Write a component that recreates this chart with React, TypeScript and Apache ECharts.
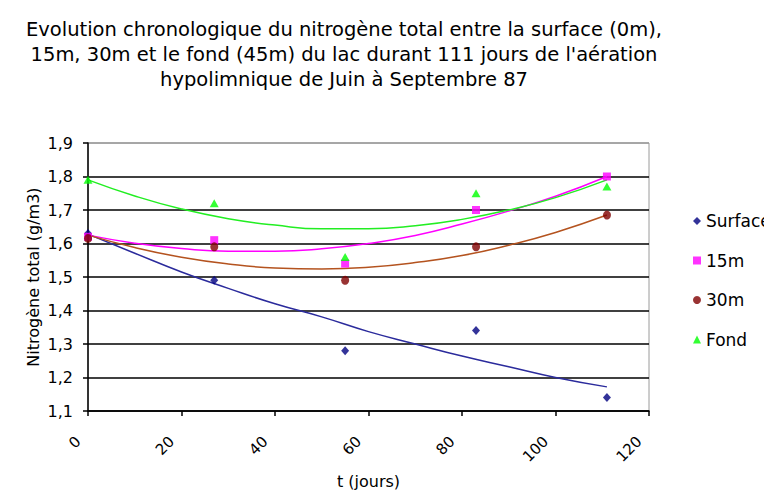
import React, { useEffect, useRef } from "react";
import * as echarts from "echarts";

const titleText =
  "Evolution chronologique du nitrogène total entre la surface (0m),\n15m, 30m et le fond (45m) du lac durant 111 jours de l'aération\nhypolimnique de Juin à Septembre 87";

const seriesNames = ["Surface", "15m", "30m", "Fond"];
const days = [0, 27, 55, 83, 111];
const surface = [1.63, 1.49, 1.28, 1.34, 1.14];
const m15 = [1.62, 1.61, 1.54, 1.70, 1.80];
const m30 = [1.615, 1.59, 1.49, 1.59, 1.685];
const fond = [1.79, 1.72, 1.56, 1.75, 1.77];

// trend lines
const trendDays = [0, 10, 20, 30, 40, 50, 60, 70, 80, 90, 100, 111];
const surfaceTrend = [1.628, 1.571, 1.515, 1.466, 1.42, 1.381, 1.337, 1.3, 1.264, 1.232, 1.2, 1.172];
const m15Trend = [1.625, 1.601, 1.585, 1.577, 1.577, 1.584, 1.6, 1.624, 1.658, 1.697, 1.741, 1.8];
const m30Trend = [1.625, 1.588, 1.559, 1.539, 1.527, 1.524, 1.529, 1.543, 1.564, 1.595, 1.633, 1.685];
const fondTrend = [1.79, 1.742, 1.703, 1.674, 1.655, 1.644, 1.644, 1.653, 1.672, 1.7, 1.737, 1.79];

const FONT = "'DejaVu Sans', Verdana, sans-serif";

export default function App() {
  const ref = useRef<HTMLDivElement>(null);
  useEffect(() => {
    if (!ref.current) return;
    const chart = echarts.init(ref.current, undefined, { renderer: "svg" });
    const pts = (xs: number[], ys: number[]) => xs.map((x, i) => [x, ys[i]]);
    const markerColors = ["#000080", "#ff00ff", "#800000", "#00ff00"];
    const trendColors = ["#2b2b9c", "#ff00ff", "#b4531f", "#22ee22"];
    const symbols = ["diamond", "rect", "circle", "triangle"];
    const symbolSizes: any[] = [[8, 9], [8, 8], [8, 9], [9, 8]];
    const values = [surface, m15, m30, fond];
    const trends = [surfaceTrend, m15Trend, m30Trend, fondTrend];
    const series: any[] = [];
    trends.forEach((t, i) => {
      series.push({
        type: "line",
        name: seriesNames[i] + " tendance",
        data: pts(trendDays, t),
        smooth: 0.5,
        showSymbol: false,
        symbol: "none",
        lineStyle: { color: trendColors[i], width: 1.5 },
        z: 3,
        silent: true,
      });
    });
    values.forEach((v, i) => {
      series.push({
        type: "scatter",
        name: seriesNames[i],
        data: pts(days, v),
        symbol: symbols[i],
        symbolSize: symbolSizes[i],
        itemStyle: { color: markerColors[i] },
        z: 4,
      });
    });
    const gridColors = ["#000", "#000", "#000", "#000", "#000", "#000", "#000", "#000", "#9a9a9a"];
    chart.setOption({
      animation: false,
      backgroundColor: "#ffffff",
      textStyle: { fontFamily: FONT },
      title: {
        text: titleText,
        left: 336,
        top: 9,
        textAlign: "center",
        padding: 0,
        textStyle: {
          fontFamily: FONT,
          fontSize: 19.5,
          fontWeight: "normal",
          color: "#000",
          lineHeight: 25,
        },
      },
      legend: {
        orient: "vertical",
        left: 685,
        top: 204,
        data: seriesNames.map((n, i) => ({ name: n, icon: symbols[i] })),
        itemWidth: 8,
        itemHeight: 8,
        itemGap: 21.5,
        textStyle: { fontFamily: FONT, fontSize: 17, color: "#000", lineHeight: 18 },
        padding: 0,
      },
      grid: {
        left: 80,
        right: 131,
        top: 135,
        bottom: 87,
        show: true,
        borderColor: "#9a9a9a",
        borderWidth: 1,
        backgroundColor: "#ffffff",
      },
      xAxis: {
        type: "value",
        min: 0,
        max: 120,
        interval: 20,
        name: "t (jours)",
        nameLocation: "middle",
        nameGap: 62,
        nameMoveOverlap: false,
        nameTextStyle: { fontFamily: FONT, fontSize: 16, color: "#000" },
        axisLine: { show: true, onZero: false, lineStyle: { color: "#000", width: 1.5 } },
        axisTick: { show: true, length: 5, lineStyle: { color: "#000", width: 1.5 } },
        splitLine: { show: false },
        axisLabel: {
          rotate: 45,
          margin: 18,
          padding: [0, 14, 0, 0],
          fontFamily: FONT,
          fontSize: 15,
          color: "#000",
        },
      },
      yAxis: {
        type: "value",
        min: 1.1,
        max: 1.9,
        interval: 0.1,
        name: "Nitrogène total (g/m3)",
        nameLocation: "middle",
        nameGap: 47,
        nameMoveOverlap: false,
        nameTextStyle: { fontFamily: FONT, fontSize: 16, color: "#000" },
        axisLine: { show: true, lineStyle: { color: "#000", width: 1.5 } },
        axisTick: { show: true, length: 5, lineStyle: { color: "#000", width: 1.5 } },
        splitLine: { show: true, lineStyle: { color: gridColors, width: 1.5 } },
        axisLabel: {
          margin: 15,
          fontFamily: FONT,
          fontSize: 16,
          color: "#000",
          formatter: (v: number) => v.toFixed(1).replace(".", ","),
        },
      },
      series,
    });
    return () => chart.dispose();
  }, []);
  return <div ref={ref} style={{ width: 772, height: 490 }} />;
}
